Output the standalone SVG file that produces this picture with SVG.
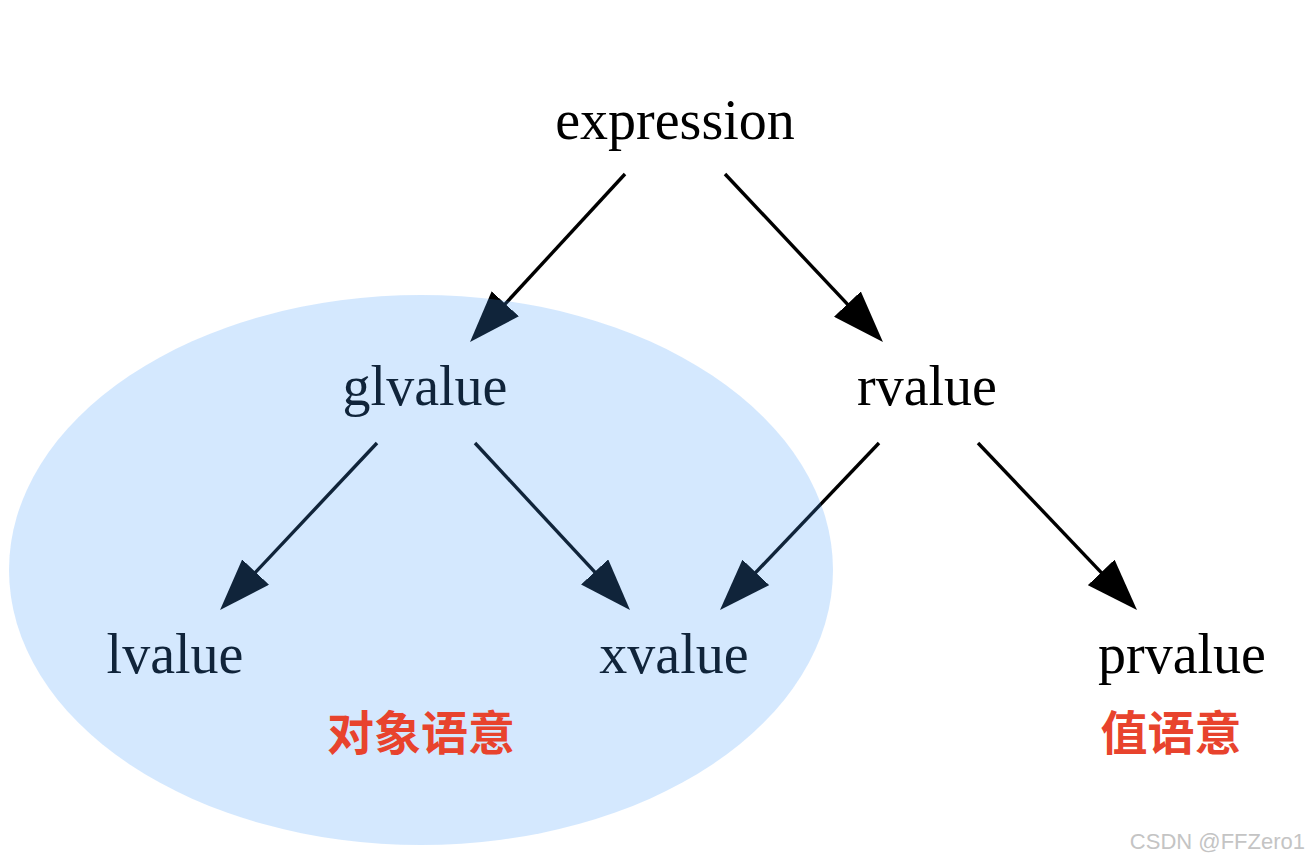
<svg xmlns="http://www.w3.org/2000/svg" width="1314" height="864" viewBox="0 0 1314 864">
<style>
.lbl{font-family:"Liberation Serif","Times New Roman",serif;font-size:56px;fill:#000;text-anchor:middle}
.cjk{font-family:"Noto Sans CJK SC",sans-serif;font-size:47px;font-weight:bold;fill:#e8432d;text-anchor:middle}
.edge{stroke:#000;stroke-width:3.4;fill:none;marker-end:url(#ah)}
.wm{font-family:"Liberation Sans",Arial,sans-serif;font-size:22px;fill:#c4c4c4;text-anchor:end}
</style>
<defs>
<marker id="ah" viewBox="0 0 52 37" markerWidth="52" markerHeight="37" refX="42" refY="18.5" orient="auto" markerUnits="userSpaceOnUse">
<path d="M0,0 L52,18.5 L0,37 z" fill="#000"/>
</marker>
</defs>
<rect width="1314" height="864" fill="#fff"/>
<g id="connectors">
<line class="edge" x1="625" y1="174" x2="476.8" y2="334.7"/>
<line class="edge" x1="725" y1="174" x2="876.1" y2="334.7"/>
<line class="edge" x1="377" y1="443" x2="226.9" y2="602.7"/>
<line class="edge" x1="475" y1="443" x2="623.2" y2="602.7"/>
<line class="edge" x1="879" y1="443" x2="726.9" y2="602.8"/>
<line class="edge" x1="978" y1="443" x2="1130.1" y2="602.8"/>
</g>
<g id="expression"><text class="lbl" x="675" y="139">expression</text></g>
<g id="glvalue"><text class="lbl" x="425" y="405">glvalue</text></g>
<g id="rvalue"><text class="lbl" x="927" y="405">rvalue</text></g>
<g id="lvalue"><text class="lbl" x="175" y="673">lvalue</text></g>
<g id="xvalue"><text class="lbl" x="674" y="673">xvalue</text></g>
<g id="prvalue"><text class="lbl" x="1182" y="673">prvalue</text></g>
<g id="object-semantics-region">
<ellipse cx="421" cy="570" rx="412" ry="275" fill="#469dfc" fill-opacity="0.23"/>
<text class="cjk" x="421" y="750">对象语意</text>
</g>
<g id="value-semantics-label"><text class="cjk" x="1171" y="750">值语意</text></g>
<text class="wm" x="1305" y="849">CSDN @FFZero1</text>
</svg>
